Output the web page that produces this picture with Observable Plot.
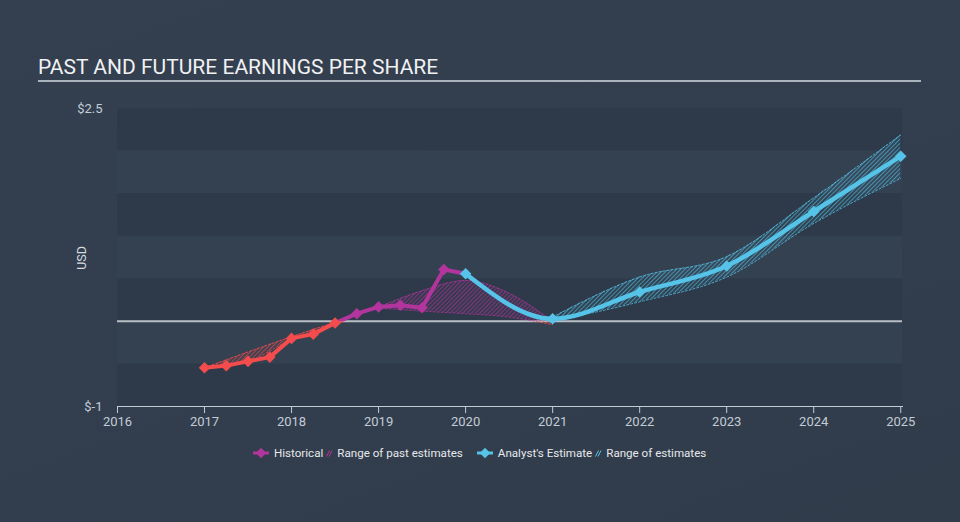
<!DOCTYPE html>
<html>
<head>
<meta charset="utf-8">
<script src="https://cdn.jsdelivr.net/npm/d3@7"></script>
<script src="https://cdn.jsdelivr.net/npm/@observablehq/plot@0.6"></script>
<style>
html, body { margin: 0; padding: 0; }
body { width: 960px; height: 522px; background: linear-gradient(160deg, #34404f 0%, #323e4d 60%, #303c4a 100%); font-family: Roboto, "Noto Sans", sans-serif; position: relative; overflow: hidden; }
#title { position: absolute; left: 38px; top: 55px; font-size: 21px; color: #f0f1f3; white-space: nowrap; }
#rule { position: absolute; left: 38px; top: 80px; width: 883px; height: 2px; background: #aab2bb; }
#chart { position: absolute; left: 0; top: 88px; }
#usd { position: absolute; left: 81px; top: 258px; transform: translate(-50%, -50%) rotate(-90deg); font-size: 12.5px; color: #d6dbe0; }
#legend { position: absolute; top: 446px; left: 252px; display: flex; align-items: center; font-size: 11.6px; color: #e6e8eb; white-space: nowrap; }
#legend .item { display: flex; align-items: center; }
#legend svg { display: block; }
</style>
</head>
<body>
<div id="title">PAST AND FUTURE EARNINGS PER SHARE</div>
<div id="rule"></div>
<div id="chart"></div>
<div id="usd">USD</div>
<div id="legend"></div>
<script>
// ---- data ----
const histYears = [2017, 2017.25, 2017.5, 2017.75, 2018, 2018.25, 2018.5, 2018.75, 2019, 2019.25, 2019.5, 2019.75, 2020];
const histEPS   = [-0.545, -0.52, -0.47, -0.42, -0.20, -0.15, -0.02, 0.09, 0.17, 0.19, 0.16, 0.61, 0.56];

const pastRangeYears = [2017, 2017.5, 2018, 2018.5, 2019, 2019.5, 2020, 2020.5, 2021];
const pastRangeHigh  = [-0.545, -0.36, -0.18, -0.01, 0.17, 0.36, 0.48, 0.33, 0.0];
const pastRangeLow   = [-0.545, -0.47, -0.21, -0.03, 0.15, 0.12, 0.09, 0.05, -0.04];

const estYears = [2020, 2021, 2022, 2023, 2024, 2025];
const estEPS   = [0.56, 0.03, 0.345, 0.65, 1.29, 1.94];

const estRangeYears = [2021, 2022, 2023, 2024, 2025];
const estRangeHigh  = [0.05, 0.52, 0.76, 1.45, 2.19];
const estRangeLow   = [0.0, 0.23, 0.52, 1.15, 1.68];

const yearTicks = [2016, 2017, 2018, 2019, 2020, 2021, 2022, 2023, 2024, 2025];
const yTickValues = [-1, 2.5];
const bandEdges = [-1, -0.5, 0, 0.5, 1, 1.5, 2, 2.5];

// ---- colours ----
const MAG = "#b2359e", RED = "#f44c4c", BLUE = "#56c3e8";
const DARK = "#2e3a49", LIGHT = "#344151";

const hist = histYears.map((year, i) => ({year, eps: histEPS[i]}));
const past = pastRangeYears.map((year, i) => ({year, lo: pastRangeLow[i], hi: pastRangeHigh[i]}));
const est = estYears.map((year, i) => ({year, eps: estEPS[i]}));
const estR = estRangeYears.map((year, i) => ({year, lo: estRangeLow[i], hi: estRangeHigh[i]}));
const bands = bandEdges.slice(0, -1).map((lo, i) => ({lo, hi: bandEdges[i + 1], dark: (bandEdges.length - 2 - i) % 2 === 0}));

const X0 = 2016, X1 = 2025.02;
const W = 960, H = 352, MT = 20, MB = 34;

const plot = Plot.plot({
  width: W, height: H,
  marginTop: MT, marginBottom: MB, marginLeft: 117, marginRight: 58,
  style: {background: "transparent", color: "#c3ccd6", fontSize: "13px", fontFamily: "Roboto, sans-serif"},
  x: {domain: [X0, X1], ticks: yearTicks, tickFormat: d => String(d), tickSize: 7, tickPadding: 3, line: true, label: null},
  y: {domain: [-1, 2.5], ticks: yTickValues, tickFormat: d => "$" + d, tickSize: 0, tickPadding: 15, label: null},
  marks: [
    Plot.rect(bands.filter(d => d.dark), {x1: () => X0, x2: () => X1, y1: "lo", y2: "hi", fill: DARK}),
    Plot.rect(bands.filter(d => !d.dark), {x1: () => X0, x2: () => X1, y1: "lo", y2: "hi", fill: LIGHT}),
    Plot.ruleY([0], {x1: X0, x2: X1, stroke: "#b9bfc7", strokeWidth: 2}),
    // past estimate range
    Plot.areaY(past, {x: "year", y1: "lo", y2: "hi", curve: "monotone-x", fill: "url(#hatchMag)", ariaDescription: "pos-past"}),
    Plot.areaY(past, {x: "year", y1: "lo", y2: "hi", curve: "monotone-x", fill: "url(#hatchRed)", ariaDescription: "neg-past"}),
    Plot.line(past, {x: "year", y: "hi", curve: "monotone-x", stroke: MAG, strokeWidth: 1, strokeDasharray: "2,2", strokeOpacity: 0.8, ariaDescription: "pos-pasthi"}),
    Plot.line(past, {x: "year", y: "hi", curve: "monotone-x", stroke: RED, strokeWidth: 1, strokeDasharray: "2,2", strokeOpacity: 0.8, ariaDescription: "neg-pasthi"}),
    Plot.line(past, {x: "year", y: "lo", curve: "monotone-x", stroke: MAG, strokeWidth: 1, strokeDasharray: "2,2", strokeOpacity: 0.8, ariaDescription: "pos-pastlo"}),
    Plot.line(past, {x: "year", y: "lo", curve: "monotone-x", stroke: RED, strokeWidth: 1, strokeDasharray: "2,2", strokeOpacity: 0.8, ariaDescription: "neg-pastlo"}),
    // analyst estimate range
    Plot.areaY(estR, {x: "year", y1: "lo", y2: "hi", curve: "monotone-x", fill: "url(#hatchBlue)"}),
    Plot.line(estR, {x: "year", y: "hi", curve: "monotone-x", stroke: BLUE, strokeWidth: 1, strokeDasharray: "2,2", strokeOpacity: 0.8}),
    Plot.line(estR, {x: "year", y: "lo", curve: "monotone-x", stroke: BLUE, strokeWidth: 1, strokeDasharray: "2,2", strokeOpacity: 0.8}),
    // historical
    Plot.line(hist, {x: "year", y: "eps", stroke: MAG, strokeWidth: 4, ariaDescription: "pos-hist"}),
    Plot.line(hist, {x: "year", y: "eps", stroke: RED, strokeWidth: 4, ariaDescription: "neg-hist"}),
    Plot.dot(hist.filter(d => d.eps < 0), {x: "year", y: "eps", symbol: "diamond2", r: 5.2, fill: RED}),
    Plot.dot(hist.filter(d => d.eps >= 0 && d.year < 2020), {x: "year", y: "eps", symbol: "diamond2", r: 5.2, fill: MAG}),
    // analyst estimate
    Plot.line(est, {x: "year", y: "eps", curve: "monotone-x", stroke: BLUE, strokeWidth: 4.5}),
    Plot.dot(est, {x: "year", y: "eps", symbol: "diamond2", r: 5.2, fill: BLUE})
  ]
});

const svg = d3.select(plot);
// pixel row of the zero line, from the y scale's domain and the plot's frame
const y0 = MT + (2.5 - 0) / (2.5 - (-1)) * (H - MT - MB);
const defs = svg.insert("defs", ":first-child");
function hatch(id, color) {
  const p = defs.append("pattern").attr("id", id).attr("patternUnits", "userSpaceOnUse")
    .attr("width", 3).attr("height", 3).attr("patternTransform", "rotate(45)");
  p.append("rect").attr("width", 3).attr("height", 3).attr("fill", color).attr("fill-opacity", 0.06);
  p.append("line").attr("x1", 0.5).attr("y1", 0).attr("x2", 0.5).attr("y2", 3).attr("stroke", color).attr("stroke-width", 0.9).attr("stroke-opacity", 0.65);
}
hatch("hatchMag", MAG);
hatch("hatchRed", RED);
hatch("hatchBlue", BLUE);
defs.append("clipPath").attr("id", "clipPos").append("rect").attr("x", 0).attr("y", 0).attr("width", W).attr("height", y0);
defs.append("clipPath").attr("id", "clipNeg").append("rect").attr("x", 0).attr("y", y0).attr("width", W).attr("height", H - y0);
svg.selectAll("[aria-description^='pos-']").attr("clip-path", "url(#clipPos)");
svg.selectAll("[aria-description^='neg-']").attr("clip-path", "url(#clipNeg)");

document.getElementById("chart").appendChild(plot);

// legend
function lineIcon(color) {
  return `<svg width="18" height="12"><line x1="1" y1="6" x2="17" y2="6" stroke="${color}" stroke-width="3"/><path d="M9,0.8 L14.2,6 L9,11.2 L3.8,6 Z" fill="${color}"/></svg>`;
}
function hatchIcon(color) {
  return `<svg width="7" height="12"><line x1="0.5" y1="9.5" x2="3.5" y2="3.5" stroke="${color}" stroke-width="1"/><line x1="3" y1="9.5" x2="6" y2="3.5" stroke="${color}" stroke-width="1"/></svg>`;
}
const legendItems = [
  {icon: lineIcon(MAG), label: "Historical", gap: 3},
  {icon: hatchIcon(MAG), label: "Range of past estimates", gap: 13},
  {icon: lineIcon(BLUE), label: "Analyst's Estimate", gap: 3},
  {icon: hatchIcon(BLUE), label: "Range of estimates", gap: 0}
];
document.getElementById("legend").innerHTML = legendItems.map(d =>
  `<div class="item" style="margin-right:${d.gap}px">${d.icon}<span style="margin-left:4px">${d.label}</span></div>`).join("");
</script>
</body>
</html>
